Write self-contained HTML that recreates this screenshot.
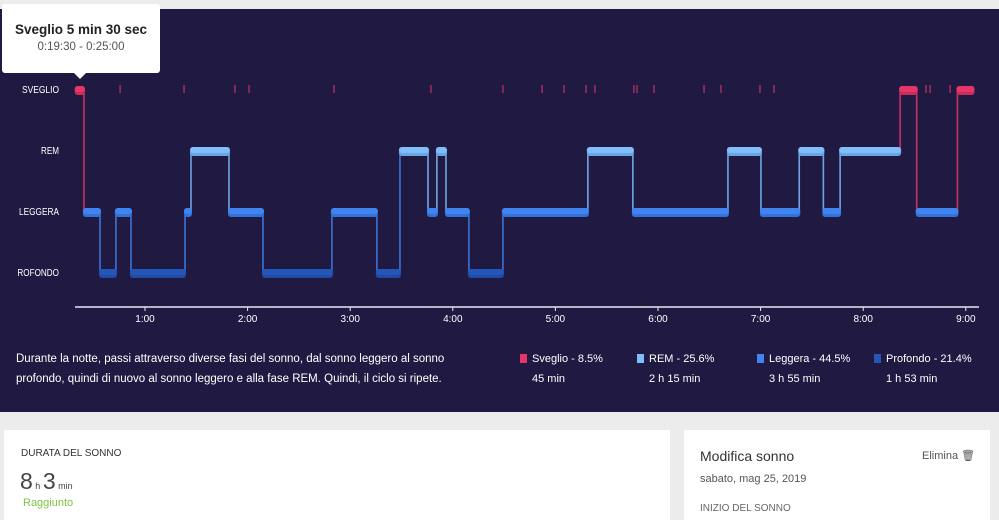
<!DOCTYPE html>
<html><head><meta charset="utf-8"><style>
html,body{margin:0;padding:0;width:999px;height:516px;overflow:hidden;background:#ececec;font-family:"Liberation Sans",sans-serif}
#panel{position:absolute;left:0;top:9px;width:999px;height:403px;background:#201a43}
svg{position:absolute;left:0;top:0}
.card{position:absolute;background:#fff;top:430px;height:90px}
.t{position:absolute;white-space:nowrap}
</style></head><body>
<div id="panel"></div>
<svg id="chart" width="999" height="412"></svg>
<div class="t" style="left:16px;top:349px;font-size:11.5px;line-height:20px;color:#fff">Durante la notte, passi attraverso diverse fasi del sonno, dal sonno leggero al sonno<br>profondo, quindi di nuovo al sonno leggero e alla fase REM. Quindi, il ciclo si ripete.</div>
<div>
<div class="t" style="left:520px;top:349px;font-size:11px;line-height:20px;color:#fff"><span style="position:absolute;left:0;top:5px;width:7px;height:9px;background:#e7356a"></span><div style="padding-left:12px">Sveglio - 8.5%<br>45 min</div></div>
<div class="t" style="left:637px;top:349px;font-size:11px;line-height:20px;color:#fff"><span style="position:absolute;left:0;top:5px;width:7px;height:9px;background:#7fbdfb"></span><div style="padding-left:12px">REM - 25.6%<br>2 h 15 min</div></div>
<div class="t" style="left:757px;top:349px;font-size:11px;line-height:20px;color:#fff"><span style="position:absolute;left:0;top:5px;width:7px;height:9px;background:#3f84f0"></span><div style="padding-left:12px">Leggera - 44.5%<br>3 h 55 min</div></div>
<div class="t" style="left:874px;top:349px;font-size:11px;line-height:20px;color:#fff"><span style="position:absolute;left:0;top:5px;width:7px;height:9px;background:#2456b8"></span><div style="padding-left:12px">Profondo - 21.4%<br>1 h 53 min</div></div>
</div>
<div style="position:absolute;left:2px;top:4px;width:158px;height:69px;background:#fff;border-radius:3px">
<div class="t" style="left:0;width:158px;text-align:center;top:18px;font-size:13.5px;font-weight:bold;color:#222">Sveglio 5 min 30 sec</div>
<div class="t" style="left:0;width:158px;text-align:center;top:37px;font-size:11.5px;color:#555">0:19:30 - 0:25:00</div>
</div>
<div style="position:absolute;left:74px;top:73px;width:0;height:0;border-left:6px solid transparent;border-right:6px solid transparent;border-top:6px solid #fff"></div>

<div class="card" style="left:4px;width:666px">
<div class="t" style="left:17px;top:18px;font-size:10px;color:#333">DURATA DEL SONNO</div>
<div class="t" style="left:16px;top:38px;color:#444"><span style="font-size:23px">8</span><span style="font-size:9px"> h </span><span style="font-size:23px">3</span><span style="font-size:9px"> min</span></div>
<div class="t" style="left:19px;top:67px;font-size:11px;color:#7cc242">Raggiunto</div>
</div>
<div class="card" style="left:684px;width:306px">
<div class="t" style="left:16px;top:18px;font-size:14px;color:#333">Modifica sonno</div>
<div class="t" style="left:238px;top:19px;font-size:11px;color:#555">Elimina &#128465;</div>
<div class="t" style="left:16px;top:43px;font-size:11px;color:#555">sabato, mag 25, 2019</div>
<div class="t" style="left:16px;top:73px;font-size:10px;color:#666">INIZIO DEL SONNO</div>
</div>

<script>
// stage: 0=sveglio 1=rem 2=leggera 3=profondo ; times in minutes after midnight
const segStart = [19.5,24.3,33.7,43,51.8,83.4,86.9,109.1,129,169.3,195.6,209.1,225.5,230.7,236,249.4,269.3,319,345.3,400.9,420.2,442.6,456.7,466.5,501.6,511.3,535.1];
const segStage = [0,2,3,2,3,2,1,2,3,2,3,1,2,1,2,3,2,1,2,1,2,1,2,1,0,2,0];
const endTime = 544.5;
const wakeMarks = [45.4,82.8,112.6,120.8,170.5,227.2,269.3,292.2,305,317.9,323.1,345.9,347.7,357.6,386.9,396.8,419.6,427.8,516.7,519.1,530.8];
const tickHours = [1,2,3,4,5,6,7,8,9];
const tickLabels = ["1:00","2:00","3:00","4:00","5:00","6:00","7:00","8:00","9:00"];
const stageNames = ["SVEGLIO","REM","LEGGERA","PROFONDO"];
const labelWidths = [37,18,40,47];

const svg = document.getElementById('chart');
const NS = 'http://www.w3.org/2000/svg';
const x = m => 42.4 + m * 102.6 / 60;
const y = s => 89 + s * 61;
const colors = ['#e7356a','#7fbdfb','#3f84f0','#2456b8'];
const dark = ['#c92d5b','#6aa6e6','#3373d8','#1f4aa5'];
function mk(tag, attrs){const e=document.createElementNS(NS,tag);for(const k in attrs)e.setAttribute(k,attrs[k]);svg.appendChild(e);return e;}

const clip=mk('clipPath',{id:'lc'});const cr=document.createElementNS(NS,'rect');cr.setAttribute('x',17);cr.setAttribute('y',0);cr.setAttribute('width',60);cr.setAttribute('height',400);clip.appendChild(cr);
stageNames.forEach((n,i)=>{const t=mk('text',{x:59,y:y(i)+4,'text-anchor':'end','font-size':10,fill:'#fff','font-family':'Liberation Sans, sans-serif','clip-path':'url(#lc)',textLength:labelWidths[i],lengthAdjust:'spacingAndGlyphs'});t.textContent=n;

});

wakeMarks.forEach(m=>{const r=mk('rect',{x:x(m)-0.6,y:y(0)-4,width:1.3,height:8,fill:'#b8305f'});

});

for(let i=1;i<segStart.length;i++){const a=segStage[i-1],b=segStage[i];const xx=x(segStart[i]);
const l=mk('rect',{x:xx-0.8,y:Math.min(y(a),y(b)),width:1.6,height:Math.abs(y(a)-y(b)),fill:colors[Math.max(a,b)==3?2:Math.min(a,b)==0?0:1],opacity:0.85});

}

for(let i=0;i<segStart.length;i++){const s=segStage[i];const x0=x(segStart[i]);const x1=x(i+1<segStart.length?segStart[i+1]:endTime);
const g=document.createElementNS(NS,'g');svg.appendChild(g);


const r1=document.createElementNS(NS,'rect');r1.setAttribute('x',x0-1);r1.setAttribute('y',y(s)-3);r1.setAttribute('width',x1-x0+2);r1.setAttribute('height',9);r1.setAttribute('rx',3);r1.setAttribute('fill',dark[s]);g.appendChild(r1);
const r2=document.createElementNS(NS,'rect');r2.setAttribute('x',x0-1);r2.setAttribute('y',y(s)-3);r2.setAttribute('width',x1-x0+2);r2.setAttribute('height',6);r2.setAttribute('rx',3);r2.setAttribute('fill',colors[s]);g.appendChild(r2);}

const ax=mk('line',{x1:75,x2:979,y1:307,y2:307,stroke:'#e8e8f0','stroke-width':1.5});


tickHours.forEach((h,i)=>{const xx=x(h*60);mk('line',{x1:xx,x2:xx,y1:307,y2:311,stroke:'#e8e8f0'});
const t=mk('text',{x:xx,y:322,'text-anchor':'middle','font-size':10,fill:'#fff','font-family':'Liberation Sans, sans-serif'});t.textContent=tickLabels[i];

});
</script>
</body></html>
